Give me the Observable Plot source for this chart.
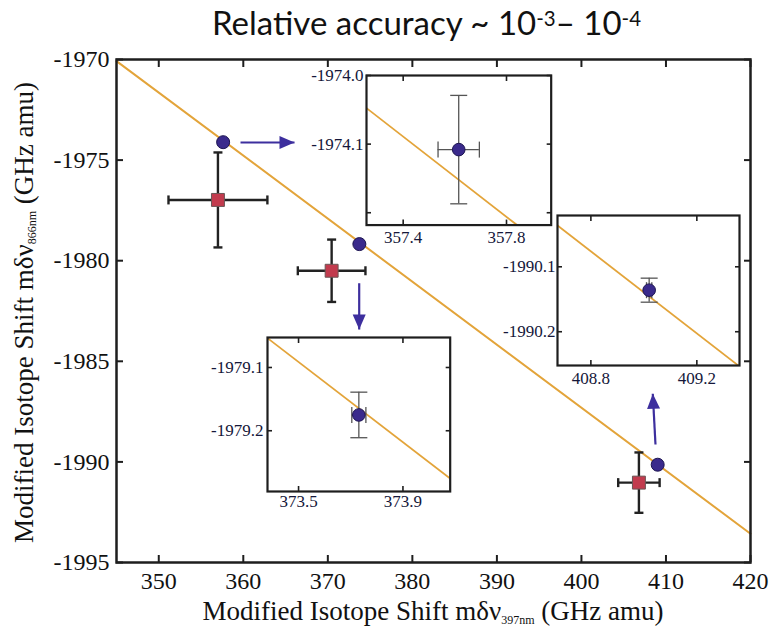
<!DOCTYPE html>
<html>
<head>
<meta charset="utf-8">
<script src="https://cdn.jsdelivr.net/npm/d3@7"></script>
<script src="https://cdn.jsdelivr.net/npm/@observablehq/plot@0.6"></script>
<style>
  body { margin: 0; background: #fff; }
  #wrap { position: relative; width: 771px; height: 628px; overflow: hidden; background: #fff; }
  .abs { position: absolute; white-space: nowrap; }
  #title { font-family: Lato, "Open Sans", sans-serif; font-size: 33px; line-height: 33px; color: #111; }
  #title sup { font-size: 0.62em; vertical-align: 0.45em; line-height: 0; }
  .axlab { font-family: "Liberation Serif", "Times New Roman", Tinos, "DejaVu Serif", serif; font-size: 27px; line-height: 27px; color: #111; text-align: center; }
  .axlab sub { font-size: 12px; vertical-align: -0.3em; line-height: 0; }
</style>
</head>
<body>
<div id="wrap">
  <div id="title" class="abs" style="left:212px; top:6px;">Relative accuracy ~ 10<sup>-3</sup>– 10<sup>-4</sup></div>
  <div class="abs axlab" style="left:133px; top:597.5px; width:600px;">Modified Isotope Shift mδν<sub>397nm</sub> (GHz amu)</div>
  <div class="abs axlab" style="left:-276px; top:298.5px; width:600px; transform: rotate(-90deg); transform-origin: 300px 13.5px;">Modified Isotope Shift mδν<sub>866nm</sub> (GHz amu)</div>
</div>
<script>
// ---------------- DATA ----------------
// main axes
const xTicks = [350, 360, 370, 380, 390, 400, 410, 420];
const yTicks = [-1970, -1975, -1980, -1985, -1990, -1995];
const xDomain = [345, 420];
const yDomain = [-1995, -1970];

// fitted line (end points)
const fitX = [345, 420];
const fitY = [-1970.08, -1993.57];

// blue circles (isotope shifts, this work)
const isoX = [357.615, 373.73, 409.02];
const isoY = [-1974.11, -1979.175, -1990.14];

// red squares (previous values) with error bars
const refX = [357.0, 370.45, 406.8];
const refXErr = [5.85, 4.0, 2.45];
const refY = [-1976.98, -1980.5, -1991.03];
const refYErr = [2.36, 1.55, 1.5];

// arrows (tail -> tip)
const arrowX1 = [359.67, 373.71, 408.76];
const arrowY1 = [-1974.125, -1981.12, -1989.135];
const arrowX2 = [366.06, 373.71, 408.44];
const arrowY2 = [-1974.125, -1983.42, -1986.615];

// insets (zoomed views of the three circles)
const insetXMin = [357.258, 373.381, 408.674];
const insetXMax = [357.973, 374.081, 409.361];
const insetYMin = [-1974.218, -1979.296, -1990.252];
const insetYMax = [-1974.0, -1979.0526, -1990.021];
const insetXTicks = [[357.4, 357.8], [373.5, 373.9], [408.8, 409.2]];
const insetYTicks = [[-1974.0, -1974.1, -1974.2], [-1979.1, -1979.2], [-1990.1, -1990.2]];
const insetYLabels = [[-1974.0, -1974.1], [-1979.1, -1979.2], [-1990.1, -1990.2]];
const insetPtX = [357.615, 373.731, 409.02];
const insetPtY = [-1974.108, -1979.175, -1990.136];
const insetPtXErr = [0.08, 0.027, 0.01];
const insetPtYErr = [0.079, 0.036, 0.0185];
const insetLineX1 = [357.258, 373.381, 408.674];
const insetLineY1 = [-1974.0475, -1979.0536, -1990.0364];
const insetLineX2 = [357.841, 374.081, 409.356];
const insetLineY2 = [-1974.218, -1979.2757, -1990.2518];

// ---------------- LAYOUT ----------------
const W = 771, H = 628;
const M = {left: 116, right: 21, top: 59, bottom: 66};
const frameW = W - M.left - M.right, frameH = H - M.top - M.bottom;
const insetBox = [
  {left: 366, top: 74.7, w: 184.7, h: 149.6, padY: 3, padX: 6},
  {left: 267.3, top: 336.7, w: 182.7, h: 154, padY: 4, padX: 3},
  {left: 557.3, top: 214.7, w: 182, h: 150, padY: 2, padX: 6}
];

const ORANGE = "#E3A43A";
const INDIGO = "#3A2A8C";
const ARROW = "#3D2F9E";
const RED = "#C23B4E";
const INK = "#1e1e1e";
const serif = "'Liberation Serif', 'Times New Roman', Tinos, 'DejaVu Serif', serif";

// custom symbols
const capH = {draw(ctx, size) { const r = Math.sqrt(size / Math.PI); ctx.moveTo(-r, 0); ctx.lineTo(r, 0); }};
const capV = {draw(ctx, size) { const r = Math.sqrt(size / Math.PI); ctx.moveTo(0, -r); ctx.lineTo(0, r); }};
const arrowHead = {draw(ctx) { ctx.moveTo(0, 0); ctx.lineTo(-6.5, 15); ctx.lineTo(6.5, 15); ctx.closePath(); }};

// rows
const fit = fitX.map((x, i) => ({x, y: fitY[i]}));
const pts = isoX.map((x, i) => ({x, y: isoY[i]}));
const refs = refX.map((x, i) => ({x, y: refY[i], xe: refXErr[i], ye: refYErr[i]}));
const sx = frameW / (xDomain[1] - xDomain[0]), sy = frameH / (yDomain[1] - yDomain[0]);
const arrows = arrowX1.map((x1, i) => {
  const dxs = (arrowX2[i] - x1) * sx, dys = -(arrowY2[i] - arrowY1[i]) * sy;
  return {x1, y1: arrowY1[i], x2: arrowX2[i], y2: arrowY2[i], angle: Math.atan2(dxs, -dys) * 180 / Math.PI};
});

function inwardAxes(xt, yt, size, sw) {
  return [
    Plot.axisX({anchor: "bottom", ticks: xt, tickSize: -size, text: null, label: null, strokeWidth: sw, color: INK}),
    Plot.axisX({anchor: "top", ticks: xt, tickSize: -size, text: null, label: null, strokeWidth: sw, color: INK}),
    Plot.axisY({anchor: "left", ticks: yt, tickSize: -size, text: null, label: null, strokeWidth: sw, color: INK}),
    Plot.axisY({anchor: "right", ticks: yt, tickSize: -size, text: null, label: null, strokeWidth: sw, color: INK})
  ];
}

const wrap = document.getElementById("wrap");

const main = Plot.plot({
  width: W, height: H,
  marginLeft: M.left, marginRight: M.right, marginTop: M.top, marginBottom: M.bottom,
  x: {domain: xDomain},
  y: {domain: yDomain},
  style: {fontFamily: serif, background: "transparent", overflow: "visible"},
  marks: [
    Plot.line(fit, {x: "x", y: "y", stroke: ORANGE, strokeWidth: 2}),
    Plot.ruleY(refs, {y: "y", x1: d => d.x - d.xe, x2: d => d.x + d.xe, stroke: "#222", strokeWidth: 2.4}),
    Plot.ruleX(refs, {x: "x", y1: d => d.y - d.ye, y2: d => d.y + d.ye, stroke: "#222", strokeWidth: 2.4}),
    Plot.dot(refs, {x: d => d.x - d.xe, y: "y", symbol: capV, r: 4.5, fill: "none", stroke: "#222", strokeWidth: 2.4}),
    Plot.dot(refs, {x: d => d.x + d.xe, y: "y", symbol: capV, r: 4.5, fill: "none", stroke: "#222", strokeWidth: 2.4}),
    Plot.dot(refs, {x: "x", y: d => d.y - d.ye, symbol: capH, r: 4.5, fill: "none", stroke: "#222", strokeWidth: 2.4}),
    Plot.dot(refs, {x: "x", y: d => d.y + d.ye, symbol: capH, r: 4.5, fill: "none", stroke: "#222", strokeWidth: 2.4}),
    Plot.dot(refs, {x: "x", y: "y", symbol: "square", r: 7.3, fill: RED, stroke: "#6a5555", strokeWidth: 1}),
    Plot.dot(pts, {x: "x", y: "y", r: 6.5, fill: INDIGO, stroke: "#1c1450", strokeWidth: 1}),
    Plot.link(arrows, {x1: "x1", y1: "y1", x2: "x2", y2: "y2", stroke: ARROW, strokeWidth: 2.2}),
    Plot.dot(arrows, {x: "x2", y: "y2", symbol: arrowHead, rotate: "angle", fill: ARROW, stroke: "none"}),
    ...inwardAxes(xTicks, yTicks, 7, 2),
    Plot.axisX({anchor: "bottom", ticks: xTicks, tickSize: 0, tickPadding: 9, label: null, fontSize: 24, fontFamily: serif, tickFormat: d => String(d), color: "#111"}),
    Plot.axisY({anchor: "left", ticks: yTicks, tickSize: 0, tickPadding: 7, label: null, fontSize: 24, fontFamily: serif, tickFormat: d => String(d), color: "#111"}),
    Plot.frame({stroke: INK, strokeWidth: 2.5})
  ]
});
main.style.position = "absolute";
main.style.left = "0px";
main.style.top = "0px";
wrap.insertBefore(main, wrap.firstChild);

insetBox.forEach((b, i) => {
  const m = {left: 70, right: 10, top: 12, bottom: 30};
  const pt = [{x: insetPtX[i], y: insetPtY[i], xe: insetPtXErr[i], ye: insetPtYErr[i]}];
  const seg = [{x1: insetLineX1[i], y1: insetLineY1[i], x2: insetLineX2[i], y2: insetLineY2[i]}];
  const chart = Plot.plot({
    width: m.left + b.w + m.right, height: m.top + b.h + m.bottom,
    marginLeft: m.left, marginRight: m.right, marginTop: m.top, marginBottom: m.bottom,
    x: {domain: [insetXMin[i], insetXMax[i]]},
    y: {domain: [insetYMin[i], insetYMax[i]]},
    style: {fontFamily: serif, background: "transparent", overflow: "visible"},
    marks: [
      Plot.frame({fill: "white", stroke: "none"}),
      Plot.link(seg, {x1: "x1", y1: "y1", x2: "x2", y2: "y2", stroke: ORANGE, strokeWidth: 1.8, clip: true}),
      Plot.ruleY(pt, {y: "y", x1: d => d.x - d.xe, x2: d => d.x + d.xe, stroke: "#555", strokeWidth: 1.3}),
      Plot.ruleX(pt, {x: "x", y1: d => d.y - d.ye, y2: d => d.y + d.ye, stroke: "#555", strokeWidth: 1.3}),
      Plot.dot(pt, {x: d => d.x - d.xe, y: "y", symbol: capV, r: 8, fill: "none", stroke: "#555", strokeWidth: 1.3}),
      Plot.dot(pt, {x: d => d.x + d.xe, y: "y", symbol: capV, r: 8, fill: "none", stroke: "#555", strokeWidth: 1.3}),
      Plot.dot(pt, {x: "x", y: d => d.y - d.ye, symbol: capH, r: 8.5, fill: "none", stroke: "#555", strokeWidth: 1.3}),
      Plot.dot(pt, {x: "x", y: d => d.y + d.ye, symbol: capH, r: 8.5, fill: "none", stroke: "#555", strokeWidth: 1.3}),
      Plot.dot(pt, {x: "x", y: "y", r: 6.3, fill: INDIGO, stroke: "#1c1450", strokeWidth: 1}),
      ...inwardAxes(insetXTicks[i], insetYTicks[i], 5, 1.6),
      Plot.axisX({anchor: "bottom", ticks: insetXTicks[i], tickSize: 0, tickPadding: b.padX, label: null, fontSize: 17, fontFamily: serif, tickFormat: d => d.toFixed(1), color: "#15173a"}),
      Plot.axisY({anchor: "left", ticks: insetYLabels[i], tickSize: 0, tickPadding: b.padY, label: null, fontSize: 17, fontFamily: serif, tickFormat: d => d.toFixed(1), color: "#15173a"}),
      Plot.frame({stroke: INK, strokeWidth: 2.2})
    ]
  });
  chart.style.position = "absolute";
  chart.style.left = (b.left - m.left) + "px";
  chart.style.top = (b.top - m.top) + "px";
  wrap.appendChild(chart);
});
</script>
</body>
</html>
